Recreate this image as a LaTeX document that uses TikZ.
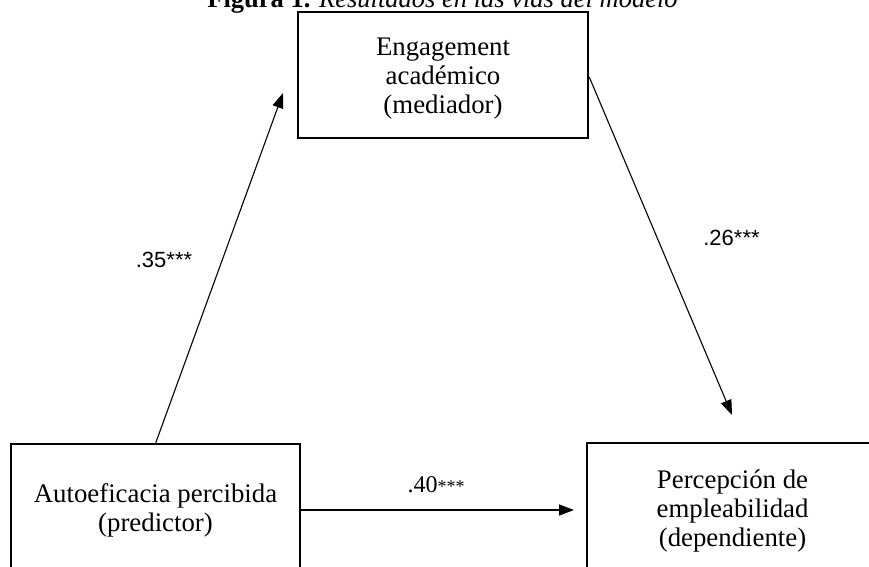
\documentclass[tikz,border=0pt]{standalone}
\usepackage{fontspec}
\setmainfont{Liberation Serif}
\newfontfamily\labsans{Liberation Sans}
\usetikzlibrary{arrows.meta,calc}
\begin{document}
\begin{tikzpicture}[x=1pt,y=-1pt,
  box/.style={draw, line width=2.5pt, align=center, inner sep=0pt, font=\fontsize{26.8}{29}\selectfont},
  conn/.style={line width=1.1pt, -{Triangle[length=15pt,width=11pt]}},
  coefsans/.style={font=\labsans\fontsize{22}{22}\selectfont, anchor=base, inner sep=0pt},
  coefserif/.style={font=\fontsize{24}{24}\selectfont, anchor=base, inner sep=0pt}]
\useasboundingbox (0,0) rectangle (869,566);
\node[anchor=base, inner sep=0pt, font=\fontsize{26.5}{28}\selectfont] (title) at (442.5,7) {\textbf{Figura 1.} \textit{Resultados en las vías del modelo}};
\node[box, minimum width=290pt, minimum height=126pt] (med) at (443,75) {\rule{0pt}{25pt}Engagement\\académico\\(mediador)};
\node[box, minimum width=289pt, minimum height=132pt] (pred) at (155.5,510) {Autoeficacia percibida\\(predictor)};
\node[box, minimum width=291pt, minimum height=132pt] (dep) at (732.5,509) {\rule{0pt}{22pt}Percepción de\\empleabilidad\\(dependiente)};
\coordinate (tipA) at (283,93);
\coordinate (tipB) at (732,415);
\coordinate (tipC) at (574,510);
\draw[conn] ($(pred.north west)+(146,0)$) -- (tipA);
\draw[conn] ($(med.east)+(0,2)$) -- (tipB);
\draw[conn, line width=1.5pt] (pred.east |- tipC) -- (tipC);
\node[coefsans] (la) at (164,267) {.35***};
\node[coefsans] (lb) at (731.5,245) {.26***};
\node[coefserif] (lc) at (436,492) {.40{\fontsize{18}{18}\selectfont ***}};
\end{tikzpicture}
\end{document}
